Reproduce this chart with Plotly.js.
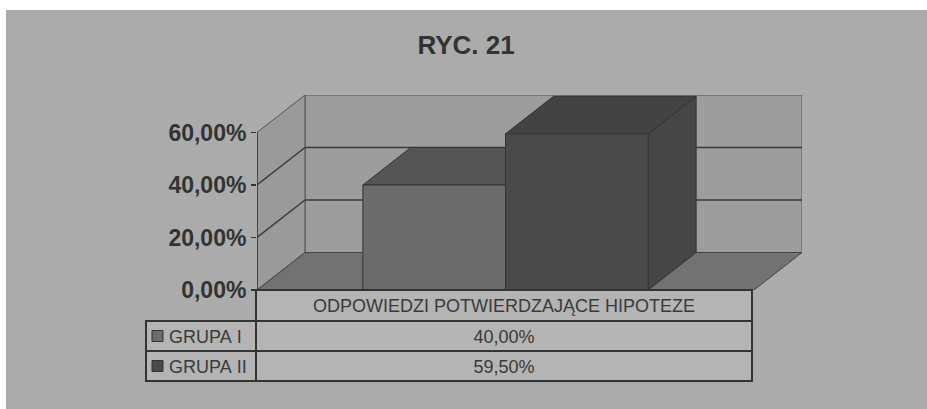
<!DOCTYPE html>
<html>
<head>
<meta charset="utf-8">
<script src="https://cdn.plot.ly/plotly-3.0.1.min.js"></script>
<style>
  html, body { margin: 0; padding: 0; background: #ffffff; width: 927px; height: 409px; overflow: hidden; }
  #chart { position: absolute; left: 6px; top: 10px; width: 921px; height: 399px; }
</style>
</head>
<body>
<div id="chart"></div>
<script>
// ---- data ----
const categories = ['ODPOWIEDZI POTWIERDZAJĄCE HIPOTEZE'];
const seriesNames = ['GRUPA I', 'GRUPA II'];
const grupaI = [40.0];
const grupaII = [59.5];
const valueLabels = ['40,00%', '59,50%'];
const tickVals = [0, 20, 40, 60];
const tickLabels = ['0,00%', '20,00%', '40,00%', '60,00%'];

// ---- styling ----
const FONT = 'Arial, "Liberation Sans", sans-serif';
const frontColors = ['#6c6c6c', '#4a4a4a'];
const topColors = ['#555555', '#434343'];
const sideColors = ['#4e4e4e', '#464646'];
const EDGE = '#333333';
const YMAX = 60;
const DX = 0.0966;   // depth offset in x units
const DY = 14.286;   // depth offset in y units
const BARGAP = 0.426;
const W = 921, H = 399;

const series = [grupaI, grupaII];
const traces = series.map((vals, i) => ({
  type: 'bar',
  name: seriesNames[i],
  x: [0],
  y: vals,
  marker: { color: frontColors[i], line: { color: EDGE, width: 1 } },
  hoverinfo: 'skip',
  showlegend: false,
  xaxis: 'x', yaxis: 'y'
}));

const groupW = 1 - BARGAP;
const barW = groupW / series.length;

const shapes = [];
function poly(pts, fill, lineColor, lw) {
  const d = pts.map((p, k) => (k ? 'L' : 'M') + p[0] + ',' + p[1]).join(' ') + ' Z';
  return { type: 'path', path: d, xref: 'x', yref: 'y', fillcolor: fill,
           line: { color: lineColor, width: lw }, layer: 'below' };
}
function seg(x0, y0, x1, y1, color, w) {
  return { type: 'line', x0, y0, x1, y1, xref: 'x', yref: 'y',
           line: { color, width: w }, layer: 'below' };
}
const L = -0.5, R = 0.5;
shapes.push(poly([[L + DX, DY], [R + DX, DY], [R + DX, YMAX + DY], [L + DX, YMAX + DY]], '#9d9d9d', '#555555', 1));
shapes.push(poly([[L, 0], [L + DX, DY], [L + DX, YMAX + DY], [L, YMAX]], '#9a9a9a', '#555555', 1));
shapes.push(poly([[L, 0], [R, 0], [R + DX, DY], [L + DX, DY]], '#727272', '#444444', 1));
tickVals.filter(v => v > 0 && v < YMAX).forEach(v => {
  shapes.push(seg(L + DX, v + DY, R + DX, v + DY, '#3a3a3a', 1.5));
  shapes.push(seg(L, v, L + DX, v + DY, '#3a3a3a', 1.5));
});
shapes.push(seg(L, 0, L, YMAX, '#333333', 1.5));
series.forEach((vals, i) => {
  const v = vals[0];
  const x0 = -groupW / 2 + i * barW;
  const x1 = x0 + barW;
  shapes.push(poly([[x1, 0], [x1, v], [x1 + DX, v + DY], [x1 + DX, DY]], sideColors[i], EDGE, 1));
  shapes.push(poly([[x0, v], [x1, v], [x1 + DX, v + DY], [x0 + DX, v + DY]], topColors[i], EDGE, 1));
});

// data table (page coords: x 146..752, header 290..321, rows 321..351, 351..381)
const HEADER_H = 31, ROW_H = 30;
const tblTop = 280, tblLeft = 140, tblRight = 746;
const keyCol = seriesNames.map(n => '\u00a0\u00a0\u00a0' + n.replace(/ /g, '\u00a0'));
traces.push({
  type: 'table',
  domain: { x: [tblLeft / W, tblRight / W], y: [0.03, 1 - tblTop / H] },
  columnwidth: [110, 496],
  header: {
    values: ['', categories[0]],
    height: HEADER_H,
    align: ['left', 'center'],
    fill: { color: ['rgba(0,0,0,0)', '#b4b4b4'] },
    line: { color: ['rgba(0,0,0,0)', '#333333'], width: 1.5 },
    font: { family: FONT, size: 18, color: '#3a3a3a' }
  },
  cells: {
    values: [keyCol, valueLabels],
    height: ROW_H,
    align: ['left', 'center'],
    fill: { color: '#b4b4b4' },
    line: { color: '#333333', width: 1.5 },
    font: { family: FONT, size: 18, color: '#3a3a3a' }
  }
});

// legend keys in the table's first column
seriesNames.forEach((n, i) => {
  const cy = tblTop + HEADER_H + ROW_H * i + ROW_H / 2;
  shapes.push({ type: 'rect', xref: 'paper', yref: 'paper',
    x0: 146 / W, x1: 157 / W, y0: 1 - (cy + 5.5) / H, y1: 1 - (cy - 5.5) / H,
    fillcolor: frontColors[i], line: { color: '#333333', width: 1 }, layer: 'above' });
});

const layout = {
  width: W, height: H,
  margin: { l: 0, r: 0, t: 0, b: 0 },
  paper_bgcolor: '#ababab',
  plot_bgcolor: 'rgba(0,0,0,0)',
  title: { text: 'RYC. 21', x: 0.4995, xref: 'container', y: 0.912, yref: 'container',
           xanchor: 'center', yanchor: 'middle',
           font: { family: FONT, size: 26, color: '#333333', weight: 'bold' } },
  barmode: 'group',
  bargap: BARGAP,
  bargroupgap: 0,
  xaxis: { domain: [251 / W, 796 / W], range: [L, R + DX], showticklabels: false,
           showgrid: false, zeroline: false, showline: false, ticks: '', fixedrange: true },
  yaxis: { domain: [1 - 280 / H, 1 - 85 / H], range: [0, YMAX + DY], tickmode: 'array',
           tickvals: tickVals, ticktext: tickLabels, ticks: 'outside', ticklen: 5,
           tickwidth: 1.5, tickcolor: '#333333', showgrid: false, zeroline: false,
           showline: false, automargin: false,
           tickfont: { family: FONT, size: 23, color: '#333333', weight: 'bold' } },
  shapes: shapes,
  showlegend: false
};

Plotly.newPlot('chart', traces, layout, { displayModeBar: false, staticPlot: true });
</script>
</body>
</html>
